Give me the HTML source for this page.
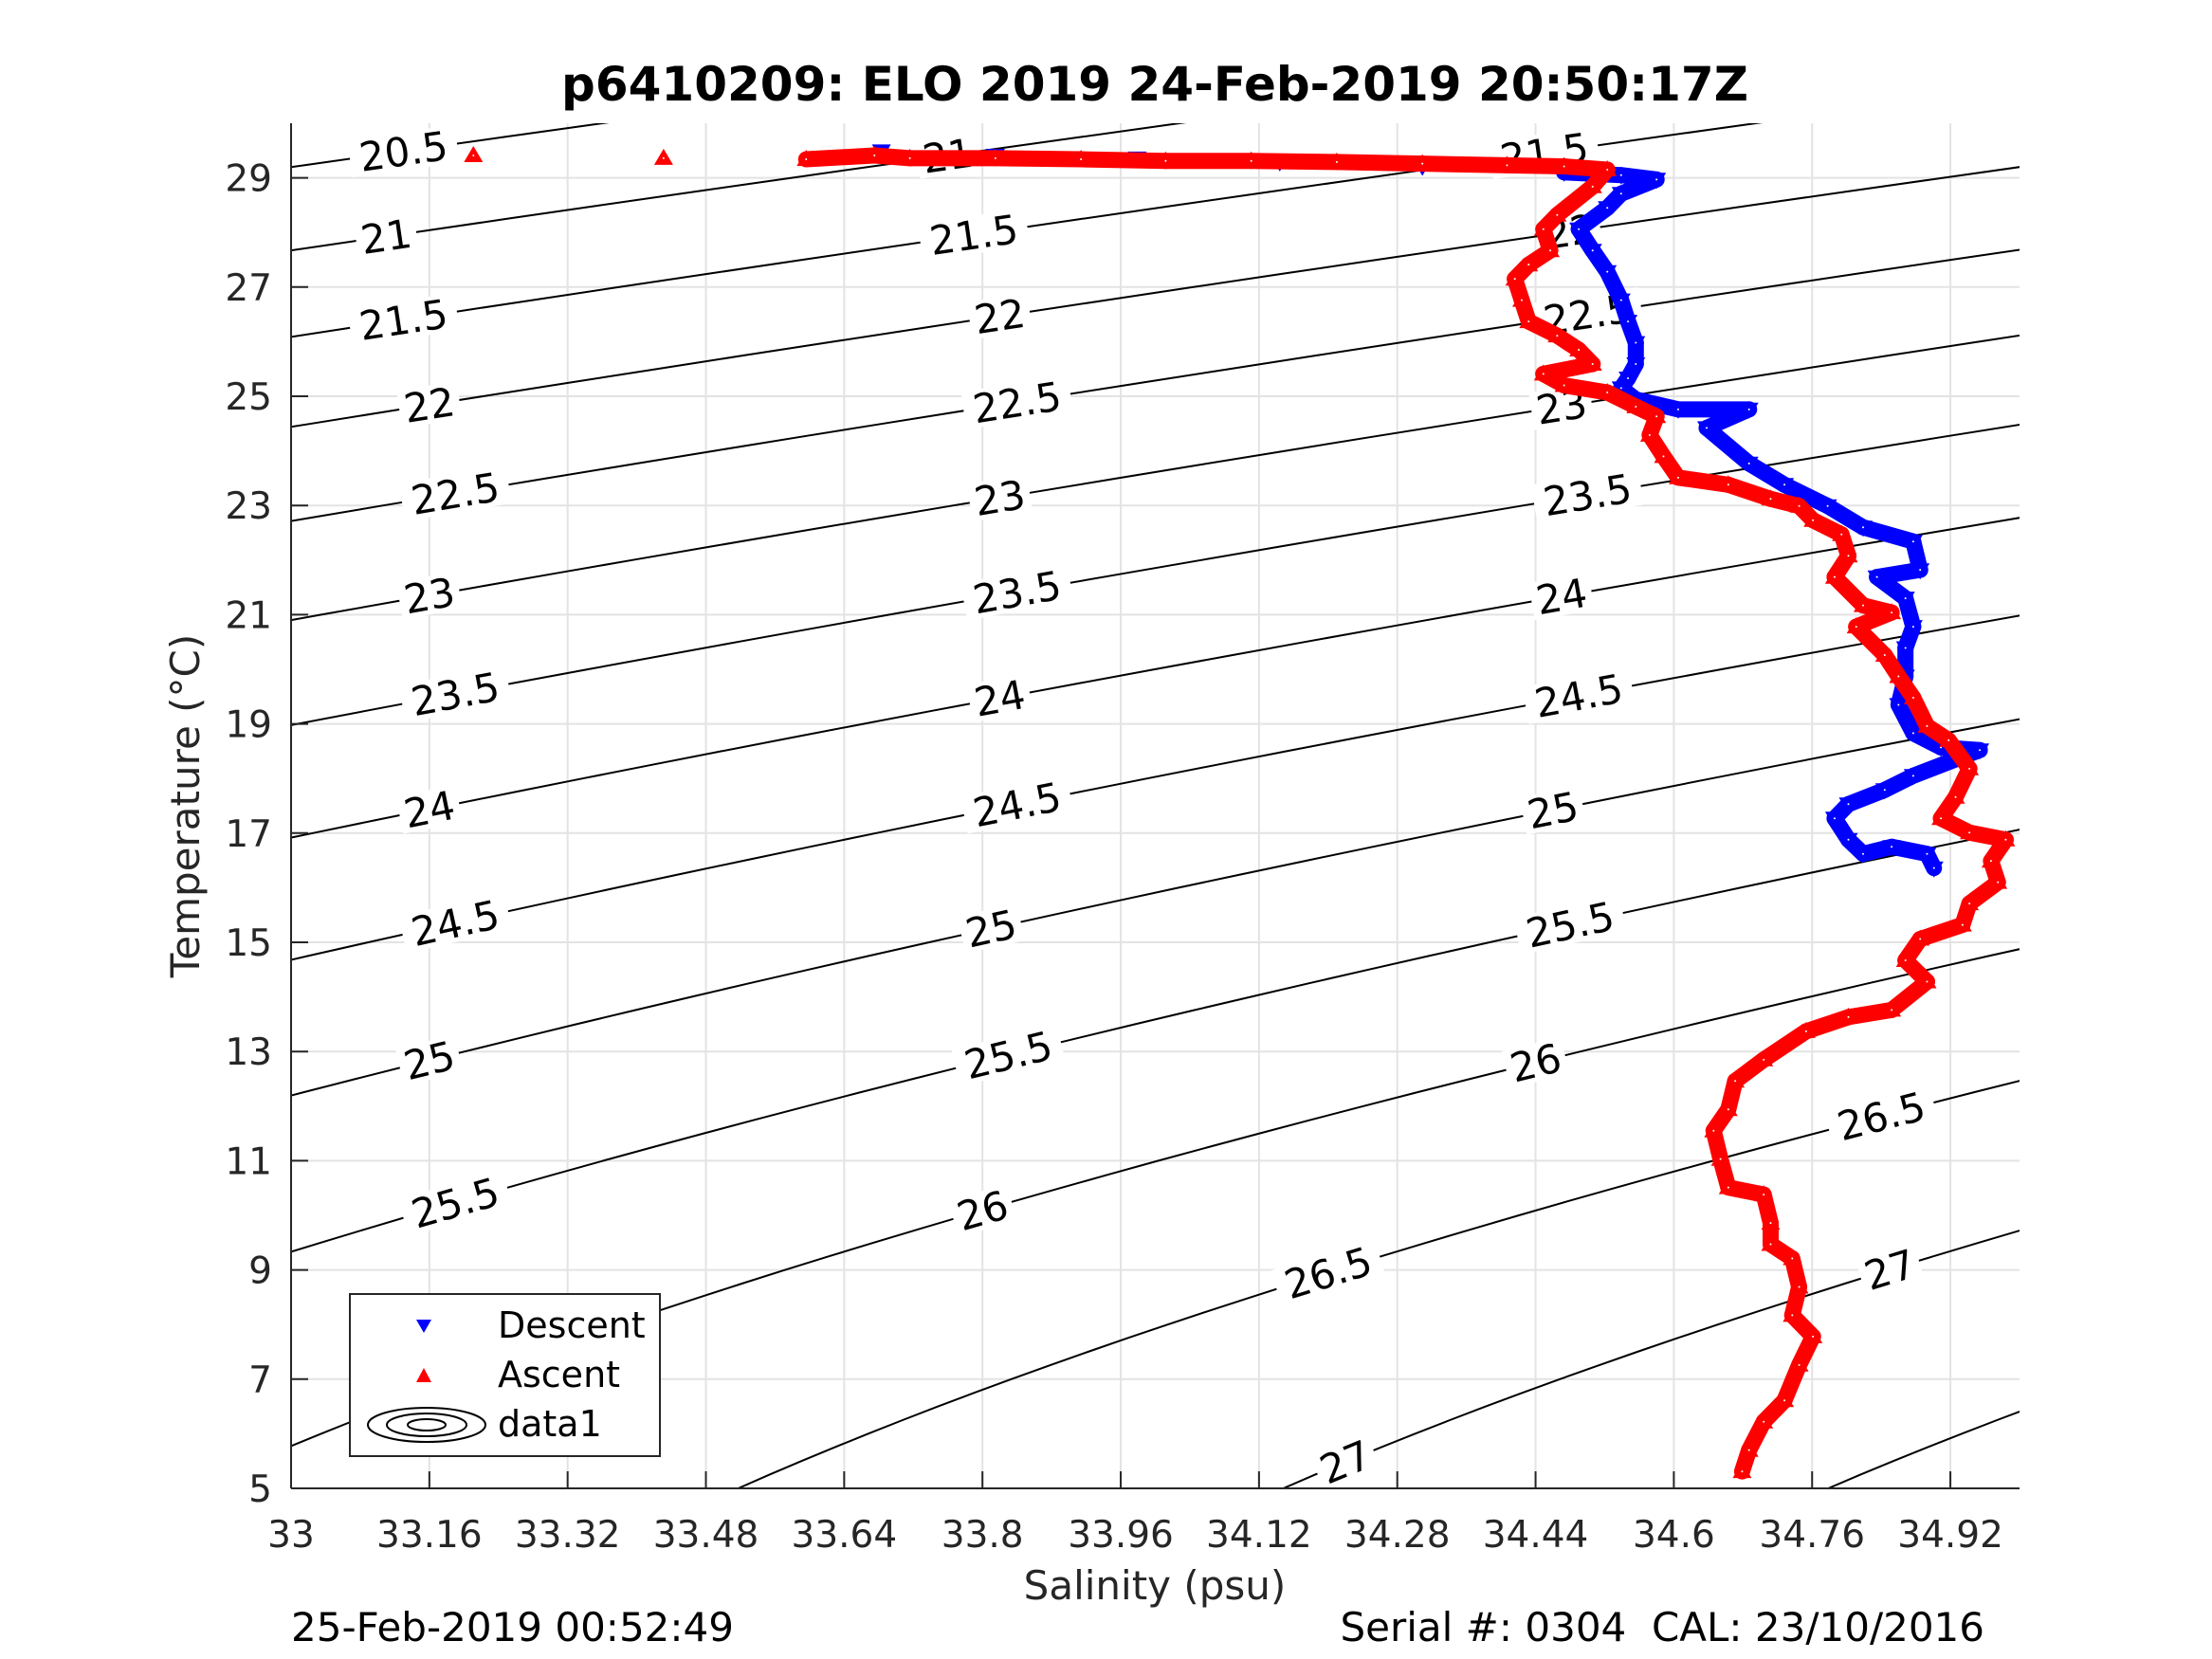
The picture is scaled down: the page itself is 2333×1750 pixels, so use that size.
<!DOCTYPE html>
<html><head><meta charset="utf-8"><style>
html,body{margin:0;padding:0;background:#fff}
svg{display:block;font-family:"DejaVu Sans","Liberation Sans",sans-serif}
</style></head><body>
<svg id="chart" xmlns="http://www.w3.org/2000/svg" width="2333" height="1750" viewBox="0 0 2333 1750">
<rect width="2333" height="1750" fill="#fff"/>
<defs><clipPath id="plotclip"><rect x="307" y="130" width="1823" height="1440"/></clipPath></defs>
<text x="1218" y="106" text-anchor="middle" font-size="50" font-weight="bold">p6410209: ELO 2019 24-Feb-2019 20:50:17Z</text>
<g id="grid"></g>
<g id="contours" clip-path="url(#plotclip)"></g>
<g id="clabels"></g>
<g id="series"></g>
<g id="axes"></g>
<text x="1218" y="1687" text-anchor="middle" font-size="42" fill="#262626">Salinity (psu)</text>
<text transform="translate(210,850) rotate(-90)" text-anchor="middle" font-size="42" fill="#262626">Temperature (°C)</text>
<text x="307" y="1731" font-size="42">25-Feb-2019 00:52:49</text>
<text x="2093" y="1731" text-anchor="end" font-size="42" xml:space="preserve">Serial #: 0304  CAL: 23/10/2016</text>
<g>
<rect x="369" y="1365" width="327" height="171" fill="#fff" stroke="#262626" stroke-width="2"/>
<polygon points="439,1392 455,1392 447,1406" fill="#00f"/>
<text x="525" y="1411" font-size="38">Descent</text>
<polygon points="439,1458 455,1458 447,1443" fill="#f00"/>
<text x="525" y="1463" font-size="38">Ascent</text>
<g fill="none" stroke="#000" stroke-width="2">
<ellipse cx="450" cy="1503" rx="62" ry="18"/><ellipse cx="450" cy="1503" rx="42" ry="12"/><ellipse cx="450" cy="1503" rx="20" ry="6"/></g>
<text x="525" y="1515" font-size="38">data1</text>
</g>
</svg>
<script>
const xTicks=[33,33.16,33.32,33.48,33.64,33.8,33.96,34.12,34.28,34.44,34.6,34.76,34.92];
const xTickLabels=["33","33.16","33.32","33.48","33.64","33.8","33.96","34.12","34.28","34.44","34.6","34.76","34.92"];
const yTicks=[5,7,9,11,13,15,17,19,21,23,25,27,29];
const contourLevels=[20.5,21,21.5,22,22.5,23,23.5,24,24.5,25,25.5,26,26.5,27,27.5];
const labelLevels=[20.5,21,21,21.5,21.5,21.5,22,22,22,22.5,22.5,22.5,23,23,23,23.5,23.5,23.5,24,24,24,24.5,24.5,24.5,25,25,25,25.5,25.5,25.5,26,26,26,26.5,26.5,27,27];
const labelS=[33.13,33.11,33.76,33.13,33.79,34.45,33.16,33.82,34.48,33.19,33.84,34.50,33.16,33.82,34.47,33.19,33.84,34.50,33.16,33.82,34.47,33.19,33.84,34.49,33.16,33.81,34.46,33.19,33.83,34.48,33.16,33.80,34.44,34.20,34.84,34.22,34.85];
const ascentS=[33.211,33.431,33.596,33.675,33.716,33.815,33.914,34.012,34.111,34.210,34.309,34.407,34.473,34.523,34.506,34.465,34.449,34.457,34.432,34.416,34.424,34.432,34.465,34.490,34.506,34.449,34.473,34.523,34.556,34.580,34.572,34.588,34.605,34.663,34.712,34.745,34.761,34.794,34.802,34.786,34.819,34.852,34.811,34.844,34.860,34.877,34.893,34.918,34.942,34.926,34.909,34.942,34.984,34.967,34.975,34.942,34.934,34.885,34.868,34.893,34.852,34.802,34.753,34.704,34.671,34.663,34.646,34.654,34.663,34.704,34.712,34.712,34.737,34.745,34.737,34.761,34.745,34.728,34.704,34.687,34.679];
const ascentT=[29.41,29.36,29.34,29.41,29.36,29.36,29.34,29.31,29.31,29.29,29.26,29.23,29.21,29.15,28.84,28.32,28.06,27.67,27.41,27.15,26.76,26.37,26.11,25.85,25.59,25.41,25.20,25.07,24.81,24.63,24.29,23.90,23.51,23.38,23.12,22.99,22.73,22.47,22.08,21.69,21.17,21.04,20.78,20.26,19.87,19.48,18.96,18.70,18.18,17.66,17.27,17.01,16.88,16.49,16.10,15.71,15.32,15.06,14.67,14.28,13.76,13.63,13.37,12.85,12.46,11.94,11.55,11.03,10.51,10.38,9.86,9.47,9.21,8.69,8.17,7.78,7.26,6.61,6.22,5.70,5.31];
const descentS=[33.683,33.815,33.979,34.144,34.309,34.473,34.539,34.580,34.539,34.523,34.490,34.506,34.523,34.539,34.547,34.556,34.556,34.547,34.539,34.556,34.605,34.687,34.638,34.687,34.728,34.778,34.819,34.877,34.885,34.835,34.868,34.877,34.868,34.868,34.860,34.877,34.909,34.954,34.877,34.844,34.802,34.786,34.802,34.819,34.852,34.893,34.901];
const descentT=[29.49,29.41,29.36,29.29,29.21,29.10,29.05,28.97,28.71,28.45,28.06,27.67,27.28,26.76,26.37,25.98,25.59,25.33,25.15,24.94,24.76,24.76,24.42,23.77,23.38,22.99,22.60,22.34,21.82,21.69,21.30,20.78,20.39,19.87,19.35,18.83,18.57,18.52,18.05,17.79,17.53,17.27,16.88,16.62,16.75,16.62,16.36];

const NS="http://www.w3.org/2000/svg";
const L=307,R=2130,T0=130,B=1570;
function xs(s){return L+(s-33)/2*(R-L);}
function yt(t){return B-(t-5)/25*(B-T0);}
function mk(tag,attrs,parent){const e=document.createElementNS(NS,tag);for(const k in attrs)e.setAttribute(k,attrs[k]);parent.appendChild(e);return e;}
function sigma(S,T){
 const rw=999.842594+6.793952e-2*T-9.095290e-3*T*T+1.001685e-4*T**3-1.120083e-6*T**4+6.536332e-9*T**5;
 const A=8.24493e-1-4.0899e-3*T+7.6438e-5*T*T-8.2467e-7*T**3+5.3875e-9*T**4;
 const Bc=-5.72466e-3+1.0227e-4*T-1.6546e-6*T*T;
 return rw+A*S+Bc*Math.pow(S,1.5)+4.8314e-4*S*S-1000;}
function sFor(level,T){let a=25,b=40;for(let i=0;i<50;i++){const m=(a+b)/2;if(sigma(m,T)<level)a=m;else b=m;}return (a+b)/2;}
function tFor(level,S){let a=-2,b=40;for(let i=0;i<50;i++){const m=(a+b)/2;if(sigma(S,m)>level)a=m;else b=m;}return (a+b)/2;}

const grid=document.getElementById('grid');
xTicks.forEach(v=>{const g=mk('line',{x1:xs(v),x2:xs(v),y1:T0,y2:B,stroke:'#e3e3e3','stroke-width':2},grid);

});
yTicks.forEach(v=>{const g=mk('line',{x1:L,x2:R,y1:yt(v),y2:yt(v),stroke:'#e3e3e3','stroke-width':2},grid);

});

const cg=document.getElementById('contours');
contourLevels.forEach(lv=>{let d='';for(let t=3;t<=31.001;t+=0.25){const s=sFor(lv,t);d+=(d?'L':'M')+xs(s).toFixed(1)+','+yt(t).toFixed(1);}
 const p=mk('path',{d:d,fill:'none',stroke:'#000','stroke-width':2},cg);
 
 });

const lg=document.getElementById('clabels');
labelLevels.forEach((lv,i)=>{const s=labelS[i];const t=tFor(lv,s);const x=xs(s),y=yt(t);
 const x2=xs(s+0.05),y2=yt(tFor(lv,s+0.05));const ang=Math.atan2(y2-y,x2-x)*180/Math.PI;
 if(y<T0||y>B)return;
 const txt=String(lv);
 const w=txt.length*25+14;
 const g=mk('g',{transform:'translate('+x.toFixed(1)+','+y.toFixed(1)+') rotate('+ang.toFixed(2)+')'},lg);
 mk('rect',{x:-w/2,y:-20,width:w,height:40,fill:'#fff'},g);
 const tx=mk('text',{x:0,y:15,'text-anchor':'middle','font-size':42,fill:'#000'},g);
 tx.textContent=txt;
 
 });

const sg=document.getElementById('series');
function drawSeries(S,Tv,color,down,name){
 const g=mk('g',{},sg);
 
 
 for(let i=1;i<S.length;i++){const x1=xs(S[i-1]),y1=yt(Tv[i-1]),x2=xs(S[i]),y2=yt(Tv[i]);
  if(Math.hypot(x2-x1,y2-y1)<100){const l=mk('line',{x1:x1,y1:y1,x2:x2,y2:y2,stroke:color,'stroke-width':17,'stroke-linecap':'round'},g);
  
  }}
 for(let i=0;i<S.length;i++){const x=xs(S[i]),y=yt(Tv[i]);const h=10;
  const pts=down?[[x-h,y-7],[x+h,y-7],[x,y+10]]:[[x-h,y+7],[x+h,y+7],[x,y-10]];
  const m=mk('polygon',{points:pts.map(p=>p[0].toFixed(1)+','+p[1].toFixed(1)).join(' '),fill:color},g);
  
  
  mk('circle',{cx:x,cy:y,r:1,fill:'#fff'},g);}
}
drawSeries(descentS,descentT,'#0000ff',true,'descent');
drawSeries(ascentS,ascentT,'#ff0000',false,'ascent');

const ax=document.getElementById('axes');
const xa=mk('line',{x1:L,x2:R,y1:B,y2:B,stroke:'#262626','stroke-width':2},ax);


const ya=mk('line',{x1:L,x2:L,y1:T0,y2:B,stroke:'#262626','stroke-width':2},ax);


xTicks.forEach((v,i)=>{mk('line',{x1:xs(v),x2:xs(v),y1:B,y2:B-18,stroke:'#262626','stroke-width':2},ax);
 const t=mk('text',{x:xs(v),y:1632,'text-anchor':'middle','font-size':39,fill:'#262626'},ax);t.textContent=xTickLabels[i];
 
 });
yTicks.forEach(v=>{mk('line',{x1:L,x2:L+18,y1:yt(v),y2:yt(v),stroke:'#262626','stroke-width':2},ax);
 const t=mk('text',{x:287,y:yt(v)+14,'text-anchor':'end','font-size':39,fill:'#262626'},ax);t.textContent=String(v);
 
 });
</script>
</body></html>
